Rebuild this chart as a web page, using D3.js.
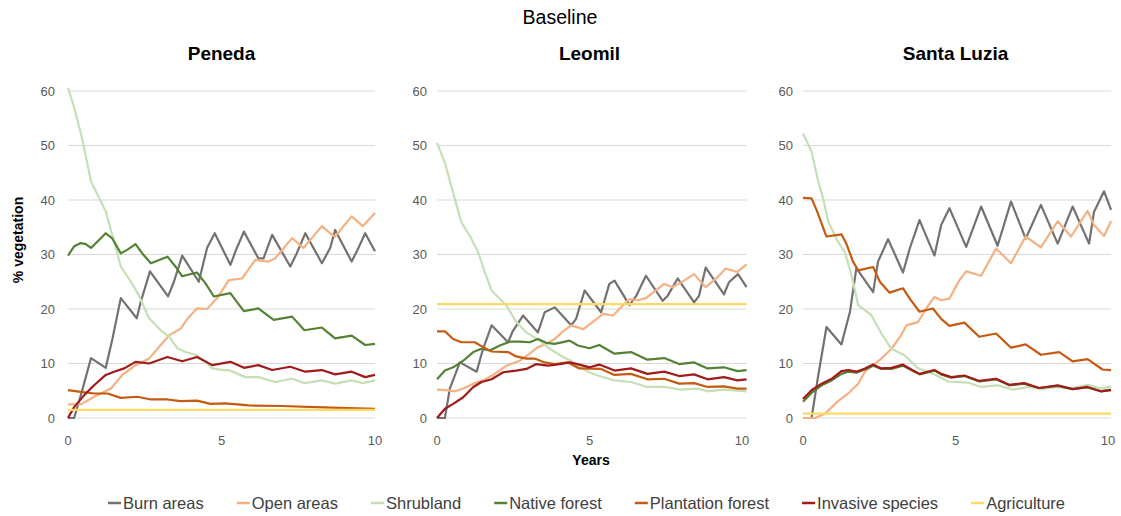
<!DOCTYPE html>
<html>
<head>
<meta charset="utf-8">
<script src="https://cdn.jsdelivr.net/npm/d3@7"></script>
<style>
  body { margin: 0; background: #fff; }
  svg { font-family: "Liberation Sans", Arial, sans-serif; }
</style>
</head>
<body>
<svg id="chart" width="1121" height="516"></svg>
<script>
// series names / colours (legend order = draw order)
const seriesNames = ["Burn areas", "Open areas", "Shrubland", "Native forest", "Plantation forest", "Invasive species", "Agriculture"];
const seriesColors = ["#767171", "#F4B183", "#C5E0B4", "#548235", "#C55A11", "#A21B1B", "#FFD966"];
const panelNames = ["Peneda", "Leomil", "Santa Luzia"];
const yTicks = [0, 10, 20, 30, 40, 50, 60];
const xTicks = [0, 5, 10];

// [year, % vegetation]
const penedaBurn = [[0,0],[0.2,0],[0.42,4.2],[0.75,11],[1.23,9.2],[1.45,14.6],[1.72,22],[2.24,18.3],[2.37,21.3],[2.67,26.9],[3.26,22.3],[3.45,25],[3.72,29.8],[4.26,25],[4.53,31.2],[4.78,33.9],[5.29,28.1],[5.5,31.2],[5.73,34.2],[6.2,29.3],[6.37,29.3],[6.65,33.6],[7.24,27.8],[7.45,30.2],[7.73,33.9],[8.27,28.4],[8.54,31.2],[8.7,34.5],[9.24,28.7],[9.46,31.2],[9.68,33.9],[10,30.6]];
const penedaOpen = [[0,2.5],[0.42,2.5],[0.85,3.9],[1.4,5.4],[1.77,7.9],[2.2,9.7],[2.64,10.9],[3.02,13.4],[3.3,15.2],[3.67,16.4],[3.9,18.3],[4.2,20.1],[4.53,20],[4.86,22],[5.24,25.3],[5.67,25.6],[6.1,29],[6.54,28.7],[6.75,29.3],[7.3,33],[7.67,31.2],[8.27,35.2],[8.54,33.9],[8.7,33.3],[9.24,37],[9.6,35.2],[10,37.6]];
const penedaShrub = [[0,60.6],[0.2,57],[0.48,50.8],[0.75,43.4],[0.96,41],[1.23,37.9],[1.5,32.4],[1.72,27.8],[2.05,25],[2.3,22.6],[2.64,18.3],[3.02,16.1],[3.3,14.9],[3.56,12.8],[3.83,12.1],[4.2,11.5],[4.48,10.3],[4.7,9.1],[5.07,8.8],[5.24,8.8],[5.78,7.5],[6.2,7.5],[6.75,6.6],[7.3,7.2],[7.7,6.4],[8.27,6.9],[8.7,6.3],[9.24,6.9],[9.6,6.4],[10,6.9]];
const penedaNative = [[0,29.8],[0.2,31.5],[0.42,32.1],[0.58,31.9],[0.75,31.2],[0.96,32.4],[1.23,33.9],[1.45,32.9],[1.72,30.2],[1.94,30.9],[2.2,31.9],[2.42,30.2],[2.7,28.4],[3.24,29.6],[3.5,27.8],[3.72,26],[4.2,26.7],[4.48,24.7],[4.75,22.3],[5.29,22.9],[5.5,21.3],[5.73,19.6],[6.2,20.1],[6.7,18],[7.3,18.6],[7.7,16.1],[8.27,16.6],[8.7,14.6],[9.24,15.1],[9.68,13.4],[10,13.6]];
const penedaPlant = [[0,5.1],[0.42,4.8],[0.85,4.5],[1.29,4.5],[1.72,3.7],[2.26,3.9],[2.7,3.4],[3.24,3.4],[3.67,3.1],[4.2,3.2],[4.64,2.6],[5.13,2.7],[5.89,2.3],[6.97,2.2],[8.05,2],[9.13,1.8],[10,1.7]];
const penedaInvasive = [[0,0],[0.2,2],[0.53,4.2],[0.85,6],[1.23,7.9],[1.5,8.5],[1.83,9.1],[2.2,10.3],[2.64,10],[3.24,11.2],[3.72,10.4],[4.2,11.2],[4.7,9.7],[5.29,10.3],[5.73,9.2],[6.2,9.7],[6.65,8.8],[7.24,9.4],[7.73,8.5],[8.27,8.8],[8.7,8],[9.24,8.5],[9.68,7.5],[10,7.9]];
const penedaAgri = [[0,1.5],[10,1.5]];

const leomilBurn = [[0,0],[0.26,0],[0.42,5.4],[0.75,10.2],[1.3,8.5],[1.51,12.7],[1.79,17],[2.33,13.9],[2.49,16],[2.82,18.8],[3.31,15.7],[3.53,19.4],[3.86,20.3],[4.4,17],[4.56,18.2],[4.84,23.4],[5.38,19.4],[5.65,24.6],[5.82,25.2],[6.31,20.7],[6.53,22.4],[6.85,26.1],[7.4,21.5],[7.56,22.4],[7.89,25.6],[8.43,21.2],[8.59,22.4],[8.81,27.6],[9.41,22.7],[9.57,24.9],[9.87,26.4],[10.15,24]];
const leomilOpen = [[0,5.2],[0.3,5.1],[0.59,4.9],[0.86,5.4],[1.19,6.3],[1.51,6.9],[1.84,7.9],[2.28,9.6],[2.71,10.5],[3.04,11.8],[3.31,13],[3.58,13.6],[3.86,14.5],[4.13,15.9],[4.4,17],[4.8,16.3],[5.45,19.1],[5.77,18.8],[6.3,21.8],[6.6,21.6],[6.85,22],[7.45,24.6],[7.72,24],[8.1,25.2],[8.43,26.4],[8.81,24],[9.19,25.8],[9.46,27.4],[9.85,26.8],[10.15,28.2]];
const leomilShrub = [[0,50.5],[0.26,46.8],[0.53,41.3],[0.8,35.9],[1.08,33.4],[1.35,30.4],[1.57,26.7],[1.79,23.4],[2.28,20.6],[2.6,17.6],[2.93,15.7],[3.37,14.2],[3.7,12.7],[4.13,11.2],[4.4,10.5],[4.67,9.3],[5,8.4],[5.27,7.8],[5.82,6.9],[6.36,6.6],[6.9,5.7],[7.45,5.7],[8,5.2],[8.54,5.4],[8.87,4.9],[9.41,5.2],[10.15,4.9]];
const leomilNative = [[0,7.1],[0.26,8.7],[0.53,9.3],[0.86,10.5],[1.19,12.1],[1.46,12.7],[1.73,12.4],[2.06,13.3],[2.38,14],[2.71,14],[3.04,13.9],[3.31,14.5],[3.58,13.8],[3.86,13.6],[4.35,14.2],[4.62,13.3],[5,12.8],[5.32,13.4],[5.82,11.8],[6.36,12.1],[6.9,10.7],[7.45,11],[7.94,9.9],[8.43,10.2],[8.87,9.1],[9.41,9.3],[9.85,8.6],[10.15,8.8]];
const leomilPlant = [[0,15.9],[0.26,15.9],[0.53,14.5],[0.8,13.9],[1.24,13.9],[1.51,13],[1.79,12.2],[2.33,12.1],[2.6,11.3],[2.93,10.9],[3.2,10.9],[3.53,10.2],[3.86,9.9],[4.29,10.2],[4.67,9.1],[5.38,9],[5.82,7.9],[6.36,8.1],[6.9,7.1],[7.45,7.2],[7.94,6.3],[8.43,6.4],[8.87,5.7],[9.41,5.8],[9.85,5.4],[10.15,5.4]];
const leomilInvasive = [[0,0],[0.26,1.7],[0.53,2.6],[0.86,3.8],[1.19,5.7],[1.46,6.6],[1.79,7.1],[2.17,8.4],[2.6,8.7],[2.93,9],[3.26,9.9],[3.64,9.6],[4.02,9.9],[4.35,10.2],[4.67,9.8],[5,9.3],[5.32,9.8],[5.82,8.7],[6.36,9.1],[6.9,8.1],[7.45,8.5],[7.94,7.7],[8.43,8],[8.87,7.1],[9.41,7.5],[9.85,6.9],[10.15,7.1]];
const leomilAgri = [[0,20.9],[10.15,20.9]];

const luziaBurn = [[0,0],[0.28,0],[0.5,7.8],[0.77,16.7],[1.26,13.5],[1.54,19.5],[1.75,27.5],[2.3,23.1],[2.46,28.7],[2.79,32.8],[3.28,26.7],[3.5,31.1],[3.82,36.3],[4.31,29.8],[4.53,35.4],[4.8,38.5],[5.35,31.4],[5.84,38.8],[6.38,31.6],[6.82,39.7],[7.3,32.9],[7.8,39.1],[8.35,32],[8.84,38.8],[9.38,32],[9.54,37.8],[9.87,41.6],[10.1,38.2]];
const luziaOpen = [[0,0],[0.39,0],[0.72,0.8],[1.15,3.1],[1.48,4.5],[1.81,6.3],[2.03,8.5],[2.3,9.7],[2.57,10.9],[2.9,12.7],[3.22,15.2],[3.39,17],[3.77,17.6],[4.04,20.1],[4.31,22.2],[4.53,21.6],[4.8,21.9],[5.13,25.3],[5.35,26.9],[5.84,26.1],[6.33,31.1],[6.82,28.4],[7.3,33.3],[7.8,31.3],[8.35,36.1],[8.79,33.3],[9.33,38],[9.54,35.4],[9.87,33.4],[10.1,36.1]];
const luziaShrub = [[0,52.2],[0.28,48.9],[0.5,43.4],[0.66,40.3],[0.83,36],[1.15,32.3],[1.37,30.5],[1.59,26.2],[1.81,20.7],[2.24,18.9],[2.57,15.5],[2.9,12.7],[3.33,11.5],[3.77,9.1],[4.1,8.5],[4.42,7.7],[4.75,6.7],[5.13,6.6],[5.4,6.5],[5.84,5.7],[6.38,6],[6.87,5.2],[7.42,5.7],[7.85,5.3],[8.35,5.7],[8.79,5.4],[9.33,6.1],[9.76,5.4],[10.1,5.8]];
const luziaNative = [[0,3],[0.28,4.6],[0.61,6],[0.94,6.9],[1.26,8.1],[1.48,8.5],[1.75,8.3],[2.03,8.9],[2.3,9.6],[2.57,9],[2.9,9],[3.28,9.6],[3.55,8.8],[3.82,8],[4.31,8.7],[4.53,8],[4.86,7.4],[5.29,7.7],[5.78,6.7],[6.33,7.1],[6.76,6],[7.25,6.3],[7.74,5.5],[8.35,5.9],[8.84,5.3],[9.33,5.6],[9.76,4.9],[10.1,5.2]];
const luziaPlant = [[0,40.4],[0.28,40.3],[0.45,38.1],[0.55,36.6],[0.77,33.3],[1.26,33.7],[1.42,32],[1.64,28.7],[1.81,27.1],[2.3,27.7],[2.52,25],[2.84,23],[3.28,23.8],[3.5,21.9],[3.82,19.5],[4.26,20.1],[4.53,18.2],[4.8,16.9],[5.29,17.5],[5.78,14.9],[6.33,15.5],[6.82,12.9],[7.3,13.5],[7.8,11.6],[8.4,12.1],[8.84,10.4],[9.33,10.8],[9.82,8.9],[10.1,8.8]];
const luziaInvasive = [[0,3.5],[0.28,5.1],[0.61,6.3],[0.94,7.2],[1.26,8.6],[1.48,8.8],[1.75,8.5],[2.03,9.1],[2.3,9.8],[2.57,9.1],[2.9,9.2],[3.28,9.8],[3.55,8.9],[3.82,8.1],[4.31,8.8],[4.53,8.1],[4.86,7.5],[5.29,7.8],[5.78,6.8],[6.33,7.2],[6.76,6.1],[7.25,6.4],[7.74,5.5],[8.35,6],[8.84,5.3],[9.33,5.7],[9.76,4.9],[10.1,5.1]];
const luziaAgri = [[0,0.8],[10.1,0.8]];

const panelSeries = [
  [penedaBurn, penedaOpen, penedaShrub, penedaNative, penedaPlant, penedaInvasive, penedaAgri],
  [leomilBurn, leomilOpen, leomilShrub, leomilNative, leomilPlant, leomilInvasive, leomilAgri],
  [luziaBurn, luziaOpen, luziaShrub, luziaNative, luziaPlant, luziaInvasive, luziaAgri]
];

const panelLeft = [68, 437, 803],
  panelRight = [375, 742, 1108], // pixel position of year 10
  plotTop = 91,
  plotBottom = 418,
  tickColor = "#595959";

const svg = d3.select("#chart");

var y = d3.scaleLinear().domain([0, 60]).range([plotBottom, plotTop]);

svg.append("text")
  .attr("x", 560).attr("y", 24)
  .attr("text-anchor", "middle")
  .style("font-size", "19.5px")
  .attr("fill", "#000")
  .text("Baseline");

panelNames.forEach(function(name, p) {
  var x = d3.scaleLinear().domain([0, 10]).range([panelLeft[p], panelRight[p]]);
  var series = panelSeries[p];
  var maxYear = d3.max(series, s => d3.max(s, d => d[0]));
  var g = svg.append("g").attr("class", "panel");

  // gridlines
  g.append("g").selectAll("line")
    .data(yTicks)
    .enter().append("line")
    .attr("x1", x(0)).attr("x2", x(maxYear))
    .attr("y1", d => y(d)).attr("y2", d => y(d))
    .attr("stroke", "#D9D9D9").attr("stroke-width", 1);

  // y tick labels
  g.append("g").selectAll("text")
    .data(yTicks)
    .enter().append("text")
    .attr("x", x(0) - (p == 0 ? 13 : 10))
    .attr("y", d => y(d) + 4.5)
    .attr("text-anchor", "end")
    .style("font-size", "13px")
    .attr("fill", tickColor)
    .text(d => d);

  // x tick labels
  g.append("g").selectAll("text")
    .data(xTicks)
    .enter().append("text")
    .attr("x", d => x(d))
    .attr("y", 445)
    .attr("text-anchor", "middle")
    .style("font-size", "13px")
    .attr("fill", tickColor)
    .text(d => d);

  var line = d3.line().x(d => x(d[0])).y(d => y(d[1]));

  g.append("g").selectAll("path")
    .data(series)
    .enter().append("path")
    .attr("d", line)
    .attr("fill", "none")
    .attr("stroke", (d, i) => seriesColors[i])
    .attr("stroke-width", 2.2)
    .attr("stroke-linejoin", "round");

  g.append("text")
    .attr("x", (x(0) + x(10)) / 2)
    .attr("y", 60)
    .attr("text-anchor", "middle")
    .style("font-size", "19px")
    .style("font-weight", "bold")
    .attr("fill", "#000")
    .text(name);
});

// axis titles
svg.append("text")
  .attr("transform", "translate(23,240) rotate(-90)")
  .attr("text-anchor", "middle")
  .style("font-size", "14px")
  .style("font-weight", "bold")
  .attr("fill", "#000")
  .text("% vegetation");

svg.append("text")
  .attr("x", 591).attr("y", 465)
  .attr("text-anchor", "middle")
  .style("font-size", "14px")
  .style("font-weight", "bold")
  .attr("fill", "#000")
  .text("Years");

// legend
const legendY = 503, legendGap = 33, swatch = 13;
var legend = svg.append("g").attr("class", "legend");
var items = legend.selectAll("g")
  .data(seriesNames)
  .enter().append("g");

items.append("line")
  .attr("x1", 0).attr("x2", swatch)
  .attr("y1", legendY).attr("y2", legendY)
  .attr("stroke", (d, i) => seriesColors[i])
  .attr("stroke-width", 2.5);

items.append("text")
  .attr("x", swatch + 2)
  .attr("y", legendY + 6)
  .style("font-size", "16.5px")
  .attr("fill", "#404040")
  .text(d => d);

var offsets = [], cur = 0;
items.each(function() {
  offsets.push(cur);
  cur += swatch + 2 + d3.select(this).select("text").node().getComputedTextLength() + legendGap;
});
var totalW = cur - legendGap;
var startX = 586.5 - totalW / 2;
items.attr("transform", (d, i) => `translate(${startX + offsets[i]},0)`);
</script>
</body>
</html>
